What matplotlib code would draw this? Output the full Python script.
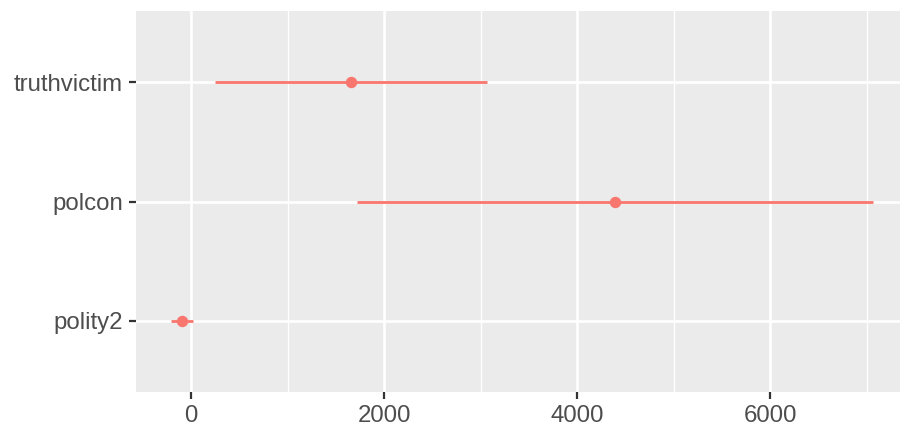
import matplotlib
matplotlib.use("Agg")
import matplotlib.pyplot as plt
from matplotlib.ticker import MultipleLocator

# coefficient estimates with confidence intervals
terms = ["polity2", "polcon", "truthvictim"]
estimate = [-100, 4390, 1655]
conf_low = [-213, 1714, 243]
conf_high = [21, 7067, 3067]

red = "#F8766D"
grey_text = "#4D4D4D"

fig = plt.figure(figsize=(9, 4.29), dpi=100)
ax = fig.add_axes([135.6 / 900, 37 / 429, (908.4 - 135.6) / 900, 381 / 429])
ax.set_facecolor("#EBEBEB")

ypos = list(range(1, len(terms) + 1))
ax.hlines(ypos, conf_low, conf_high, color=red, linewidth=2.0, zorder=3)
ax.plot(estimate, ypos, "o", color=red, markersize=7.2, zorder=4)

# ggplot-like expansion of the x range
lo, hi = min(conf_low), max(conf_high)
pad = 0.05 * (hi - lo)
ax.set_xlim(lo - pad, hi + pad)
ax.set_ylim(0.4, len(terms) + 0.6)

ax.set_yticks(ypos)
ax.set_yticklabels(terms)
ax.xaxis.set_major_locator(MultipleLocator(2000))
ax.xaxis.set_minor_locator(MultipleLocator(1000))

ax.grid(which="major", color="white", linewidth=1.9, zorder=0)
ax.grid(which="minor", axis="x", color="white", linewidth=0.95, zorder=0)
ax.set_axisbelow(True)

for s in ax.spines.values():
    s.set_visible(False)

ax.tick_params(which="major", length=5, width=1.6, color="#333333",
               labelsize=17.3, labelcolor=grey_text, pad=4)
ax.tick_params(which="minor", length=0)
for lab in ax.get_xticklabels() + ax.get_yticklabels():
    lab.set_family("Liberation Sans")

fig.savefig("out.png", dpi=100)
